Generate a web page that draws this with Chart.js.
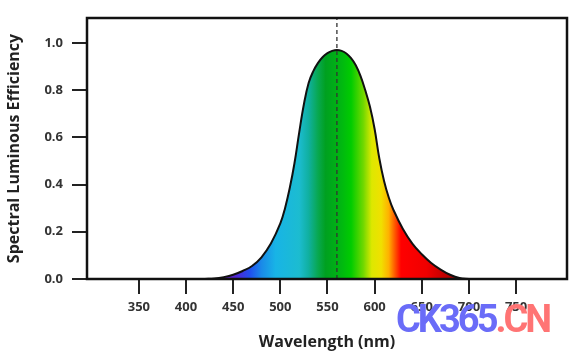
<!DOCTYPE html>
<html>
<head>
<meta charset="utf-8">
<script src="https://cdn.jsdelivr.net/npm/chart.js@4.4.0/dist/chart.umd.min.js"></script>
<style>
  html, body { margin: 0; padding: 0; background: #fff; }
  #wrap { position: relative; width: 573px; height: 354px; }
  #mark { position: absolute; left: 396px; top: 300px; font: bold 38px Roboto, sans-serif; line-height: 1; letter-spacing: -3px; }
</style>
</head>
<body>
<div id="wrap">
  <canvas id="myChart" width="573" height="354"></canvas>
  <div id="mark"><span style="color:#6a6cf8">CK365</span><span style="color:#ff7474">.CN</span></div>
</div>
<script>
// wavelength (nm) and spectral luminous efficiency
const wavelengths = [420, 430, 440, 450, 460, 470, 480, 490, 500, 505, 510, 515, 520, 525, 530, 535, 540, 545, 550, 555, 560, 565, 570, 575, 580, 585, 590, 595, 600, 605, 610, 615, 620, 630, 640, 650, 660, 670, 680, 690, 700]
const efficiency = [0, 0.002, 0.008, 0.018, 0.034, 0.055, 0.092, 0.15, 0.235, 0.3, 0.385, 0.49, 0.62, 0.74, 0.83, 0.88, 0.915, 0.94, 0.956, 0.966, 0.97, 0.966, 0.955, 0.935, 0.905, 0.86, 0.8, 0.73, 0.635, 0.51, 0.415, 0.345, 0.292, 0.212, 0.15, 0.105, 0.068, 0.04, 0.018, 0.004, 0]
const peakNm = 560
const xTicks = [350, 400, 450, 500, 550, 600, 650, 700, 750]
const yTicks = [0, 0.2, 0.4, 0.6, 0.8, 1.0]

// spectrum colours under the curve
const spectrumNm = [425, 440, 455, 468, 480, 495, 520, 530, 540, 548, 565, 575, 588, 597, 607, 615, 622, 628, 655, 675, 695]
const spectrumColors = ["#8a50b0", "#6a1cb8", "#4b2ad8", "#2050f0", "#1a8ae8", "#18b4e6", "#1cbcd0", "#10b0a0", "#08a850", "#00a020", "#00b810", "#00cc00", "#70d800", "#dde800", "#f0e000", "#ffb000", "#ff5000", "#ff0000", "#f00000", "#c00000", "#800000"]

const points = wavelengths.map(function (w, i) { return { x: w, y: efficiency[i] } })

function spectrumFill(context) {
  const chart = context.chart
  if (!chart.chartArea) return "#00b000"
  const xs = chart.scales.x
  const x0 = xs.getPixelForValue(spectrumNm[0])
  const x1 = xs.getPixelForValue(spectrumNm[spectrumNm.length - 1])
  const g = chart.ctx.createLinearGradient(x0, 0, x1, 0)
  for (let i = 0; i < spectrumNm.length; i++) {
    g.addColorStop((xs.getPixelForValue(spectrumNm[i]) - x0) / (x1 - x0), spectrumColors[i])
  }
  return g
}

const boxPlugin = {
  id: "box",
  afterDatasetsDraw(chart) {
    const { ctx, chartArea } = chart
    ctx.save()
    ctx.strokeStyle = "#111"
    ctx.lineWidth = 2.5
    ctx.strokeRect(chartArea.left, chartArea.top, chartArea.right - chartArea.left, chartArea.bottom - chartArea.top)
    ctx.restore()
  }
}

const tickFont = { family: "'Open Sans', sans-serif", size: 13, weight: "bold" }
const titleFont = { family: "'Open Sans', sans-serif", size: 16, weight: "bold" }

const config = {
  type: "line",
  data: {
    datasets: [
      {
        data: points,
        order: 2,
        borderColor: "#111",
        borderWidth: 2,
        backgroundColor: spectrumFill,
        fill: "origin",
        pointRadius: 0,
        tension: 0.4
      },
      {
        data: [{ x: peakNm, y: 0 }, { x: peakNm, y: 1.105 }],
        order: 1,
        borderColor: "#333",
        borderWidth: 1.3,
        borderDash: [4, 3],
        pointRadius: 0,
        fill: false
      }
    ]
  },
  options: {
    responsive: false,
    animation: false,
    layout: { padding: { top: 18, right: 6, left: 0, bottom: 0 } },
    plugins: { legend: { display: false }, tooltip: { enabled: false } },
    scales: {
      x: {
        type: "linear",
        min: 295,
        max: 804,
        afterBuildTicks(scale) { scale.ticks = xTicks.map(function (v) { return { value: v } }) },
        afterFit(scale) { scale.height = 75 },
        ticks: { font: tickFont, color: "#333", padding: 5, maxRotation: 0 },
        grid: { drawOnChartArea: false, drawTicks: true, tickLength: 15, color: "#222", lineWidth: 2 },
        border: { display: false },
        title: { display: true, text: "Wavelength (nm)", font: titleFont, color: "#222", padding: { top: 6, bottom: 2 } }
      },
      y: {
        min: 0,
        max: 1.105,
        afterBuildTicks(scale) { scale.ticks = yTicks.map(function (v) { return { value: v } }) },
        afterFit(scale) { scale.width = 87 },
        ticks: { font: tickFont, color: "#333", padding: 9, callback: function (v) { return v.toFixed(1) } },
        grid: { drawOnChartArea: false, drawTicks: true, tickLength: 15, color: "#222", lineWidth: 2 },
        border: { display: false },
        title: { display: true, text: "Spectral Luminous Efficiency", font: titleFont, color: "#222", padding: { top: 5, bottom: 0 } }
      }
    }
  },
  plugins: [boxPlugin]
}

const myChart = new Chart(document.getElementById("myChart"), config)
</script>
</body>
</html>
